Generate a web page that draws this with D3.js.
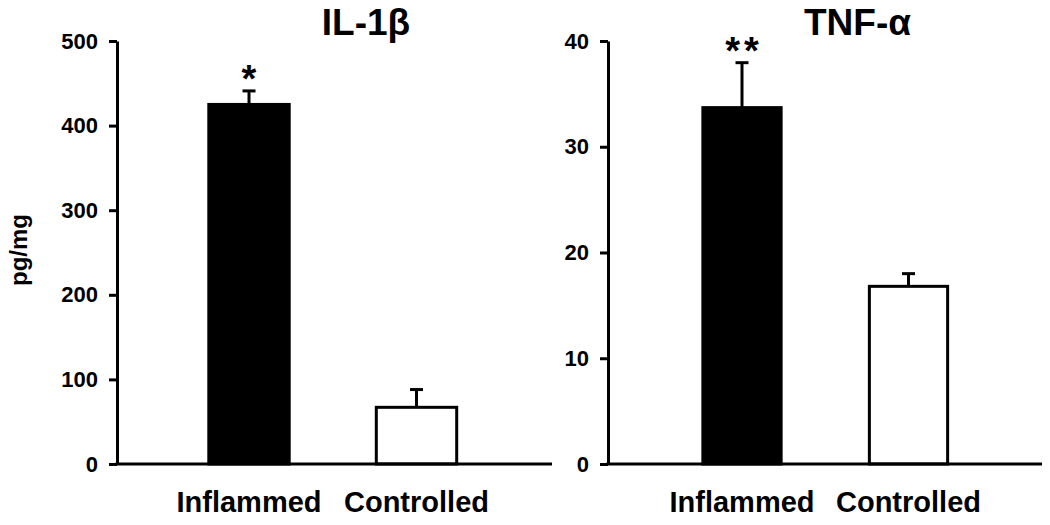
<!DOCTYPE html>
<html>
<head>
<meta charset="utf-8">
<script src="https://cdn.jsdelivr.net/npm/d3@7"></script>
<style>
  html, body { margin: 0; padding: 0; background: #fff; }
  svg { display: block; }
  text { font-family: "Liberation Sans", Arial, sans-serif; font-weight: bold; fill: #000; }
</style>
</head>
<body>
<svg id="chart" width="1050" height="525"></svg>
<script>
// ---- data ----
const categories = ["Inflammed", "Controlled"];
const il1bMeans = [425, 67];
const il1bErrors = [16, 21];
const il1bMarks = ["*", ""];
const il1bTicks = [0, 100, 200, 300, 400, 500];
const tnfMeans = [33.7, 16.8];
const tnfErrors = [4.25, 1.2];
const tnfMarks = ["**", ""];
const tnfTicks = [0, 10, 20, 30, 40];
const barFills = ["#000", "#fff"];
const panelTitles = ["IL-1β", "TNF-α"];
const yLabel = "pg/mg";

// ---- layout ----
const svg = d3.select("#chart");
const yTop = 41, yBottom = 464;

const panels = [
  { title: panelTitles[0], means: il1bMeans, errors: il1bErrors, marks: il1bMarks, ticks: il1bTicks,
    max: 500, axisX: 117, xEnd: 552, band: [165.25, 500.25], pi: 0.52, po: 0.26, titleX: 366, ylabel: true },
  { title: panelTitles[1], means: tnfMeans, errors: tnfErrors, marks: tnfMarks, ticks: tnfTicks,
    max: 40, axisX: 608, xEnd: 1042, band: [658.75, 991.75], pi: 0.53, po: 0.265, titleX: 857.5, ylabel: false }
];

panels.forEach(p => {
  const g = svg.append("g");
  const y = d3.scaleLinear().domain([0, p.max]).range([yBottom, yTop]);
  const x = d3.scaleBand().domain(categories).range(p.band).paddingInner(p.pi).paddingOuter(p.po);

  // bars
  g.selectAll("rect.bar").data(categories).join("rect")
    .attr("class", "bar")
    .attr("x", d => x(d))
    .attr("width", x.bandwidth())
    .attr("y", (d, i) => y(p.means[i]))
    .attr("height", (d, i) => y(0) - y(p.means[i]))
    .attr("fill", (d, i) => barFills[i])
    .attr("stroke", "#000")
    .attr("stroke-width", 3);

  // error bars (upper only)
  const capW = 13;
  categories.forEach((c, i) => {
    const cx = x(c) + x.bandwidth() / 2;
    const top = y(p.means[i] + p.errors[i]);
    g.append("line").attr("x1", cx).attr("x2", cx)
      .attr("y1", y(p.means[i])).attr("y2", top)
      .attr("stroke", "#000").attr("stroke-width", 3);
    g.append("line").attr("x1", cx - capW / 2).attr("x2", cx + capW / 2)
      .attr("y1", top).attr("y2", top)
      .attr("stroke", "#000").attr("stroke-width", 3);
    if (p.marks[i]) {
      g.append("text").attr("x", cx + (p.marks[i].length > 1 ? 2 : 0)).attr("y", top + 1)
        .attr("text-anchor", "middle")
        .style("font-size", "38px")
        .style("letter-spacing", p.marks[i].length > 1 ? "4px" : "0px")
        .text(p.marks[i]);
    }
    // category label
    g.append("text").attr("x", cx).attr("y", 512)
      .attr("text-anchor", "middle")
      .style("font-size", "29px")
      .text(c);
  });

  // y axis
  const ax = g.append("g").attr("transform", `translate(${p.axisX},0)`)
    .call(d3.axisLeft(y).tickValues(p.ticks).tickSize(8).tickSizeOuter(0).tickPadding(11).tickFormat(d3.format("d")));
  ax.select(".domain").attr("stroke", "#000").attr("stroke-width", 3);
  ax.selectAll(".tick line").attr("stroke", "#000").attr("stroke-width", 3);
  ax.selectAll(".tick text").style("font-size", "22px").style("font-family", "'Liberation Sans', Arial, sans-serif").style("font-weight", "bold").attr("fill", "#000");

  // x axis line
  g.append("line").attr("x1", p.axisX - 1.5).attr("x2", p.xEnd)
    .attr("y1", y(0)).attr("y2", y(0))
    .attr("stroke", "#000").attr("stroke-width", 3);

  // title
  g.append("text").attr("x", p.titleX).attr("y", 35)
    .attr("text-anchor", "middle")
    .style("font-size", "37px")
    .text(p.title);

  if (p.ylabel) {
    g.append("text")
      .attr("transform", `translate(27,250) rotate(-90)`)
      .attr("text-anchor", "middle")
      .style("font-size", "24px")
      .text(yLabel);
  }
});
</script>
</body>
</html>
